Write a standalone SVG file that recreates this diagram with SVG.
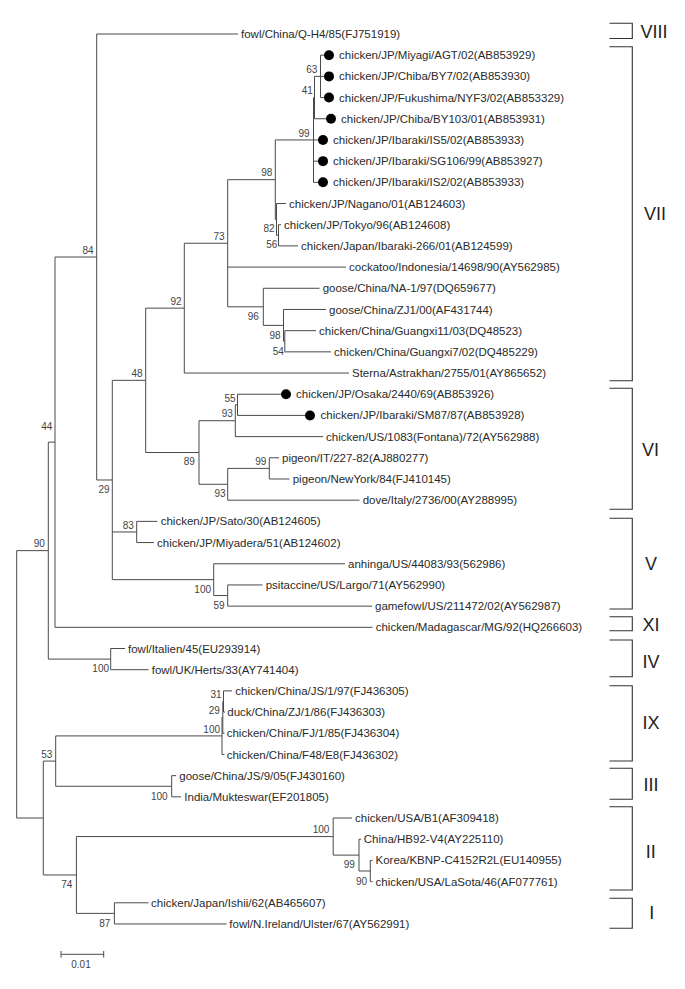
<svg xmlns="http://www.w3.org/2000/svg" width="685" height="989" viewBox="0 0 685 989">
<style>
.br{fill:none;stroke:#4a4a4a;stroke-width:1}
.lf{font-family:"Liberation Sans",Arial,sans-serif;font-size:11.5px;fill:#2a2a2a}
.bs{font-family:"Liberation Sans",Arial,sans-serif;font-size:10px;fill:#444;text-anchor:middle}
.cl{font-family:"Liberation Sans",Arial,sans-serif;font-size:18px;fill:#222;text-anchor:middle}
.bk{fill:none;stroke:#333;stroke-width:1.1}
.dot{fill:#000}
</style>
<rect width="685" height="989" fill="#fff"/>
<g id="branches" class="br">
<path d="M320.5,55.19V97.57M314.5,76.38V118.76M313.5,97.57V182.33M278.5,224.71V245.9M276.5,203.52V235.3M275.3,139.95V219.41M284.8,330.66V351.85M283.5,309.47V341.26M263.3,288.28V325.37M227.7,179.68V306.82M184.3,243.25V373.04M237.5,394.23V415.42M235.3,404.83V436.61M269.3,457.8V478.99M227.7,468.4V500.18M199,420.72V484.29M145.7,308.15V452.5M136.7,521.37V542.56M227.7,584.94V606.13M213.7,563.75V595.54M112.3,380.33V579.65M96.7,34V479.99M55,257V627.32M110.7,648.51V669.7M48.3,442.16V659.1M223.5,690.89V712.08M222.8,701.49V733.27M222,717.38V754.46M171.7,775.65V796.84M55.7,735.92V786.25M370.3,860.41V881.6M359,839.22V871M333.2,818.03V855.11M114.4,902.79V923.98M76.4,836.57V913.39M43.3,761.08V874.98M16.7,550.63V818.03"/>
<path d="M314.5,76.38H320.5M313.5,97.57H314.5M275.3,139.95H313.5M276.5,235.3H278.5M275.3,219.41H276.5M227.7,179.68H275.3M283.5,341.26H284.8M263.3,325.37H283.5M227.7,306.82H263.3M184.3,243.25H227.7M145.7,308.15H184.3M235.3,404.83H237.5M199,420.72H235.3M227.7,468.4H269.3M199,484.29H227.7M145.7,452.5H199M112.3,380.33H145.7M112.3,531.97H136.7M213.7,595.54H227.7M112.3,579.65H213.7M96.7,479.99H112.3M55,257H96.7M48.3,442.16H55M48.3,659.1H110.7M16.7,550.63H48.3M222.8,701.49H223.5M222,717.38H222.8M55.7,735.92H222M55.7,786.25H171.7M43.3,761.08H55.7M359,871H370.3M333.2,855.11H359M76.4,836.57H333.2M76.4,913.39H114.4M43.3,874.98H76.4M16.7,818.03H43.3"/>
<path d="M96.7,34H238M320.5,55.19H324M320.5,76.38H324M320.5,97.57H324M314.5,118.76H326M313.5,139.95H318M313.5,161.14H318M313.5,182.33H318M276.5,203.52H286M278.5,224.71H281M278.5,245.9H298M227.7,267.09H346M263.3,288.28H319.5M283.5,309.47H326M284.8,330.66H316M284.8,351.85H331M184.3,373.04H349M237.5,394.23H281M237.5,415.42H305M235.3,436.61H323M269.3,457.8H279M269.3,478.99H289.5M227.7,500.18H359.5M136.7,521.37H157.5M136.7,542.56H154M213.7,563.75H345M227.7,584.94H262.5M227.7,606.13H372M55,627.32H372.5M110.7,648.51H125M110.7,669.7H148.5M223.5,690.89H232M223.5,712.08H225M222.8,733.27H224.5M222,754.46H224.5M171.7,775.65H176M171.7,796.84H181M333.2,818.03H352M359,839.22H361M370.3,860.41H372.5M370.3,881.6H372.5M114.4,902.79H148.5M114.4,923.98H226.6"/>
</g>
<g id="leaves">
<g id="leaf1"><text class="lf" x="241" y="38">fowl/China/Q-H4/85(FJ751919)</text></g>
<g id="leaf2"><circle class="dot" cx="329" cy="55.19" r="5"/><text class="lf" x="339" y="59.2">chicken/JP/Miyagi/AGT/02(AB853929)</text></g>
<g id="leaf3"><circle class="dot" cx="329" cy="76.38" r="5"/><text class="lf" x="339" y="80.4">chicken/JP/Chiba/BY7/02(AB853930)</text></g>
<g id="leaf4"><circle class="dot" cx="329" cy="97.57" r="5"/><text class="lf" x="339" y="101.6">chicken/JP/Fukushima/NYF3/02(AB853329)</text></g>
<g id="leaf5"><circle class="dot" cx="331" cy="118.76" r="5"/><text class="lf" x="341" y="122.8">chicken/JP/Chiba/BY103/01(AB853931)</text></g>
<g id="leaf6"><circle class="dot" cx="323" cy="139.95" r="5"/><text class="lf" x="333" y="144">chicken/JP/Ibaraki/IS5/02(AB853933)</text></g>
<g id="leaf7"><circle class="dot" cx="323" cy="161.14" r="5"/><text class="lf" x="333" y="165.1">chicken/JP/Ibaraki/SG106/99(AB853927)</text></g>
<g id="leaf8"><circle class="dot" cx="323" cy="182.33" r="5"/><text class="lf" x="333" y="186.3">chicken/JP/Ibaraki/IS2/02(AB853933)</text></g>
<g id="leaf9"><text class="lf" x="289" y="207.5">chicken/JP/Nagano/01(AB124603)</text></g>
<g id="leaf10"><text class="lf" x="284" y="228.7">chicken/JP/Tokyo/96(AB124608)</text></g>
<g id="leaf11"><text class="lf" x="301" y="249.9">chicken/Japan/Ibaraki-266/01(AB124599)</text></g>
<g id="leaf12"><text class="lf" x="349" y="271.1">cockatoo/Indonesia/14698/90(AY562985)</text></g>
<g id="leaf13"><text class="lf" x="322.7" y="292.3">goose/China/NA-1/97(DQ659677)</text></g>
<g id="leaf14"><text class="lf" x="329" y="313.5">goose/China/ZJ1/00(AF431744)</text></g>
<g id="leaf15"><text class="lf" x="319" y="334.7">chicken/China/Guangxi11/03(DQ48523)</text></g>
<g id="leaf16"><text class="lf" x="334" y="355.9">chicken/China/Guangxi7/02(DQ485229)</text></g>
<g id="leaf17"><text class="lf" x="352" y="377">Sterna/Astrakhan/2755/01(AY865652)</text></g>
<g id="leaf18"><circle class="dot" cx="286" cy="394.23" r="5"/><text class="lf" x="296" y="398.2">chicken/JP/Osaka/2440/69(AB853926)</text></g>
<g id="leaf19"><circle class="dot" cx="310" cy="415.42" r="5"/><text class="lf" x="320.5" y="419.4">chicken/JP/Ibaraki/SM87/87(AB853928)</text></g>
<g id="leaf20"><text class="lf" x="326" y="440.6">chicken/US/1083(Fontana)/72(AY562988)</text></g>
<g id="leaf21"><text class="lf" x="282" y="461.8">pigeon/IT/227-82(AJ880277)</text></g>
<g id="leaf22"><text class="lf" x="292.7" y="483">pigeon/NewYork/84(FJ410145)</text></g>
<g id="leaf23"><text class="lf" x="362.7" y="504.2">dove/Italy/2736/00(AY288995)</text></g>
<g id="leaf24"><text class="lf" x="160.7" y="525.4">chicken/JP/Sato/30(AB124605)</text></g>
<g id="leaf25"><text class="lf" x="157" y="546.6">chicken/JP/Miyadera/51(AB124602)</text></g>
<g id="leaf26"><text class="lf" x="348" y="567.8">anhinga/US/44083/93(562986)</text></g>
<g id="leaf27"><text class="lf" x="265.7" y="588.9">psitaccine/US/Largo/71(AY562990)</text></g>
<g id="leaf28"><text class="lf" x="375" y="610.1">gamefowl/US/211472/02(AY562987)</text></g>
<g id="leaf29"><text class="lf" x="375.7" y="631.3">chicken/Madagascar/MG/92(HQ266603)</text></g>
<g id="leaf30"><text class="lf" x="128" y="652.5">fowl/Italien/45(EU293914)</text></g>
<g id="leaf31"><text class="lf" x="151.7" y="673.7">fowl/UK/Herts/33(AY741404)</text></g>
<g id="leaf32"><text class="lf" x="235.3" y="694.9">chicken/China/JS/1/97(FJ436305)</text></g>
<g id="leaf33"><text class="lf" x="227.3" y="716.1">duck/China/ZJ/1/86(FJ436303)</text></g>
<g id="leaf34"><text class="lf" x="226.7" y="737.3">chicken/China/FJ/1/85(FJ436304)</text></g>
<g id="leaf35"><text class="lf" x="226.7" y="758.5">chicken/China/F48/E8(FJ436302)</text></g>
<g id="leaf36"><text class="lf" x="179.3" y="779.6">goose/China/JS/9/05(FJ430160)</text></g>
<g id="leaf37"><text class="lf" x="184.3" y="800.8">India/Mukteswar(EF201805)</text></g>
<g id="leaf38"><text class="lf" x="355" y="822">chicken/USA/B1(AF309418)</text></g>
<g id="leaf39"><text class="lf" x="363.8" y="843.2">China/HB92-V4(AY225110)</text></g>
<g id="leaf40"><text class="lf" x="375.5" y="864.4">Korea/KBNP-C4152R2L(EU140955)</text></g>
<g id="leaf41"><text class="lf" x="375.5" y="885.6">chicken/USA/LaSota/46(AF077761)</text></g>
<g id="leaf42"><text class="lf" x="151.1" y="906.8">chicken/Japan/Ishii/62(AB465607)</text></g>
<g id="leaf43"><text class="lf" x="229.3" y="928">fowl/N.Ireland/Ulster/67(AY562991)</text></g>
</g>
<g id="bootstrap">
<text class="bs" x="88" y="254.3">84</text>
<text class="bs" x="104" y="492.9">29</text>
<text class="bs" x="137" y="376.9">48</text>
<text class="bs" x="176" y="304.6">92</text>
<text class="bs" x="219" y="239.6">73</text>
<text class="bs" x="266.7" y="175.9">98</text>
<text class="bs" x="304" y="136.9">99</text>
<text class="bs" x="307.3" y="94.3">41</text>
<text class="bs" x="311.7" y="72.9">63</text>
<text class="bs" x="269" y="231.9">82</text>
<text class="bs" x="271.7" y="247.9">56</text>
<text class="bs" x="253.3" y="320.3">96</text>
<text class="bs" x="275" y="338.6">98</text>
<text class="bs" x="278.3" y="355.3">54</text>
<text class="bs" x="230" y="401.9">55</text>
<text class="bs" x="227.3" y="416.9">93</text>
<text class="bs" x="189.3" y="465.3">89</text>
<text class="bs" x="260.7" y="465.3">99</text>
<text class="bs" x="220" y="496.9">93</text>
<text class="bs" x="128.3" y="528.6">83</text>
<text class="bs" x="202.7" y="592.6">100</text>
<text class="bs" x="219" y="608.6">59</text>
<text class="bs" x="46.7" y="429.6">44</text>
<text class="bs" x="39.3" y="546.9">90</text>
<text class="bs" x="100.7" y="671.9">100</text>
<text class="bs" x="216" y="697.9">31</text>
<text class="bs" x="214.3" y="714.3">29</text>
<text class="bs" x="211.7" y="732.6">100</text>
<text class="bs" x="46.7" y="757.9">53</text>
<text class="bs" x="159.3" y="800.3">100</text>
<text class="bs" x="321" y="832.9">100</text>
<text class="bs" x="349.3" y="867.9">99</text>
<text class="bs" x="361.6" y="884.6">90</text>
<text class="bs" x="66.8" y="887.9">74</text>
<text class="bs" x="104.8" y="926.9">87</text>
</g>
<g id="clades">
<g id="clade-VIII"><path class="bk" d="M609.5,23.3H632.3V38.5H609.5"/><text class="cl" x="654" y="37.5">VIII</text></g>
<g id="clade-VII"><path class="bk" d="M609.5,46.7H632.3V380.7H609.5"/><text class="cl" x="655" y="219.8">VII</text></g>
<g id="clade-VI"><path class="bk" d="M609.5,388.3H632.3V509.3H609.5"/><text class="cl" x="650.5" y="455.5">VI</text></g>
<g id="clade-V"><path class="bk" d="M609.5,518.3H632.3V609H609.5"/><text class="cl" x="651" y="569.8">V</text></g>
<g id="clade-XI"><path class="bk" d="M609.5,616.7H632.3V630.7H609.5"/><text class="cl" x="651" y="630.5">XI</text></g>
<g id="clade-IV"><path class="bk" d="M609.5,640H632.3V676.7H609.5"/><text class="cl" x="651" y="668.2">IV</text></g>
<g id="clade-IX"><path class="bk" d="M609.5,685.7H632.3V761H609.5"/><text class="cl" x="651" y="729.2">IX</text></g>
<g id="clade-III"><path class="bk" d="M609.5,768.3H632.3V799.3H609.5"/><text class="cl" x="651" y="790.8">III</text></g>
<g id="clade-II"><path class="bk" d="M609.5,806.7H632.3V890H609.5"/><text class="cl" x="650.7" y="857.5">II</text></g>
<g id="clade-I"><path class="bk" d="M609.5,898.3H632.3V928.3H609.5"/><text class="cl" x="651.7" y="919.2">I</text></g>
</g>
<g id="scalebar">
<path class="br" d="M61,954.3H103.7M61,951V957.6M103.7,951V957.6"/>
<text class="bs" x="81" y="968">0.01</text>
</g>
</svg>
